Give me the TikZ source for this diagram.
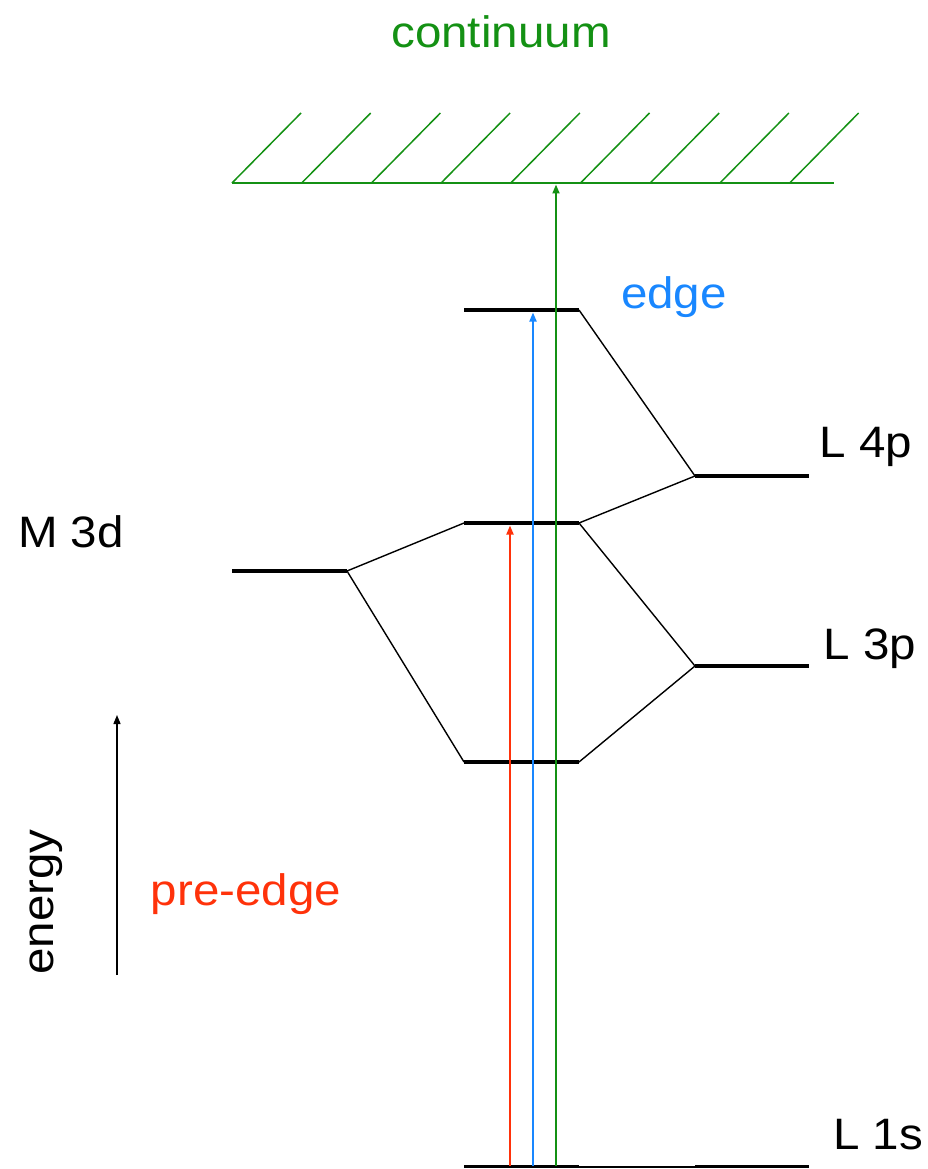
\documentclass[tikz,border=0pt]{standalone}
\usepackage{fontspec}
\setmainfont{Liberation Sans}
\usetikzlibrary{arrows.meta}
\definecolor{contgreen}{RGB}{20,145,20}
\definecolor{edgeblue}{RGB}{25,135,255}
\definecolor{prered}{RGB}{255,50,10}
% slightly widened label text
\newcommand{\widetxt}[1]{\scalebox{1.08}[1]{#1}}
\begin{document}
\begin{tikzpicture}[x=1pt,y=-1pt,
  level/.style={line width=3.6pt},
  link/.style={line width=1.4pt},
  trans/.style={line width=1.8pt,-{Triangle[length=9pt,width=7pt]}},
  hatch/.style={contgreen,line width=1.5pt},
  lbl/.style={font=\fontsize{44}{44}\selectfont,anchor=base,inner sep=0pt}]
\useasboundingbox (0,0) rectangle (927,1169);

% energy levels
\coordinate (m3dL) at (232,571);  \coordinate (m3dR) at (347,571);
\coordinate (moTL) at (464,310);  \coordinate (moTR) at (579,310);
\coordinate (moML) at (464,523);  \coordinate (moMR) at (579,523);
\coordinate (moBL) at (464,762);  \coordinate (moBR) at (579,762);
\coordinate (l4pL) at (695,476);  \coordinate (l4pR) at (809,476);
\coordinate (l3pL) at (695,666);  \coordinate (l3pR) at (809,666);
\coordinate (l1sA) at (464,1166.5); \coordinate (l1sB) at (579,1166.5);
\coordinate (l1sC) at (695,1166.5); \coordinate (l1sD) at (809,1166.5);

\draw[level] (m3dL) -- (m3dR);
\draw[level] (moTL) -- (moTR);
\draw[level] (moML) -- (moMR);
\draw[level] (moBL) -- (moBR);
\draw[level] (l4pL) -- (l4pR);
\draw[level] (l3pL) -- (l3pR);
\draw[level] (l1sA) -- (l1sB);
\draw[level] (l1sC) -- (l1sD);
\draw[line width=2pt] (l1sB) -- (l1sC);

% correlation lines
\draw[link] (m3dR) -- (moML);
\draw[link] (m3dR) -- (moBL);
\draw[link] (moTR) -- (l4pL);
\draw[link] (moMR) -- (l4pL);
\draw[link] (moMR) -- (l3pL);
\draw[link] (moBR) -- (l3pL);

% continuum
\coordinate (contL) at (232,183); \coordinate (contR) at (834,183);
\draw[hatch,line width=2pt] (contL) -- (contR);
\foreach \i in {0,...,8}{
  \draw[hatch] (232+69.7*\i,183) -- ++(69,-70);
}

% transitions
\coordinate (redS) at (510,1166);  \coordinate (redE) at (510,525.5);
\coordinate (bluS) at (533,1166);  \coordinate (bluE) at (533,312.5);
\coordinate (grnS) at (556,1166);  \coordinate (grnE) at (556,184.5);
\draw[trans,prered] (redS) -- (redE);
\draw[trans,edgeblue] (bluS) -- (bluE);
\draw[trans,contgreen] (grnS) -- (grnE);

% energy axis
\coordinate (enS) at (117,975); \coordinate (enE) at (117,715);
\draw[line width=1.3pt,-{Triangle[length=9pt,width=7pt]}] (enS) -- (enE);

% labels
\node[lbl,text=contgreen] (tcont) at (501,48) {\widetxt{continuum}};
\node[lbl,text=edgeblue] (tedge) at (674,308) {\widetxt{edge}};
\node[lbl] (tl4p) at (866,457) {\widetxt{L 4p}};
\node[lbl] (tm3d) at (71,547) {\widetxt{M 3d}};
\node[lbl] (tl3p) at (870,659) {\widetxt{L 3p}};
\node[lbl] (tl1s) at (878,1149) {\widetxt{L 1s}};
\node[lbl,text=prered] (tpre) at (246,905) {\widetxt{pre-edge}};
\node[lbl,rotate=90] (tenergy) at (53,902) {\widetxt{energy}};
\end{tikzpicture}
\end{document}
